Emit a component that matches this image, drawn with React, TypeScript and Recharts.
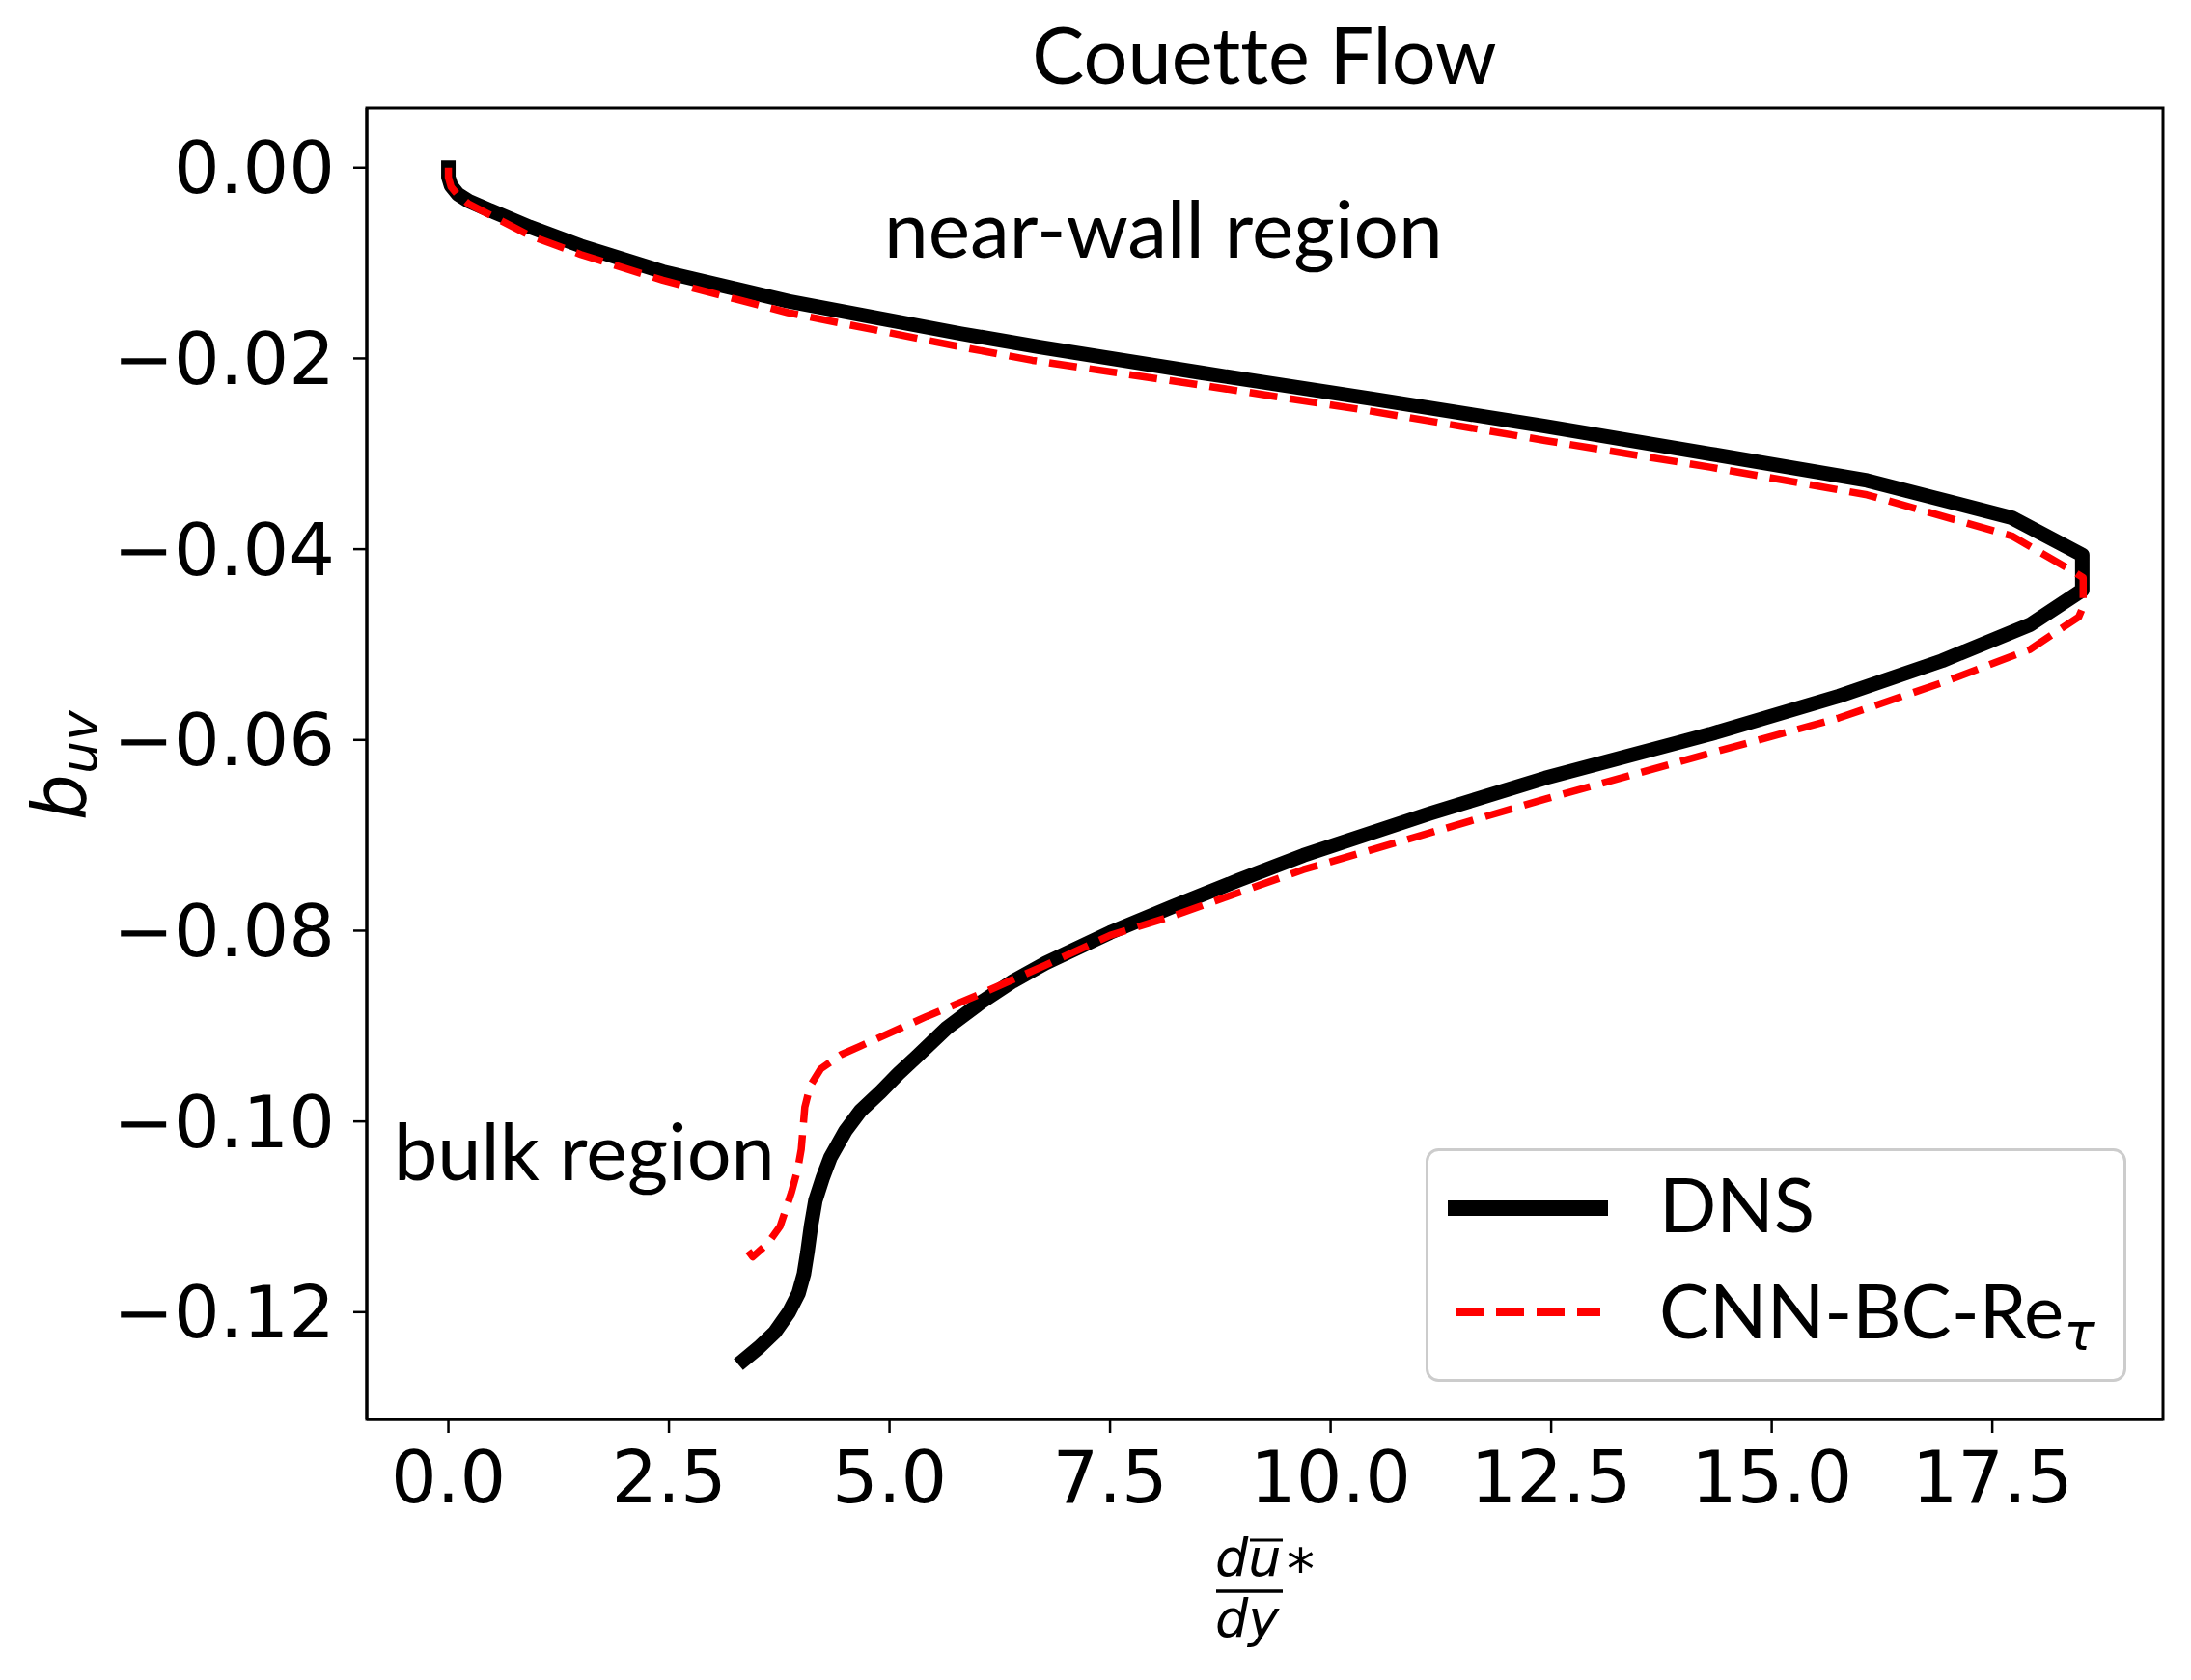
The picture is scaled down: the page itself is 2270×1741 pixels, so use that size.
import React from "react";
import {
  LineChart,
  Line,
  XAxis,
  YAxis,
  Legend,
  ReferenceArea,
  Customized
} from "recharts";

// DNS profile: dU/dy* (x) against b_uv (y), ordered along the curve
const dnsX = [
  0.0, 0.0, 0.03, 0.11, 0.23, 0.48, 0.92, 1.5, 2.43, 3.85, 5.81, 6.7, 8.53, 10.44,
  12.43, 14.3, 16.08, 17.72, 18.52, 18.52, 17.93, 16.93, 15.76, 14.3, 12.43, 11.13,
  9.69, 8.96, 8.23, 7.5, 6.77, 6.4, 6.04, 5.65, 5.31, 5.1, 4.9, 4.67, 4.5, 4.33, 4.24,
  4.16, 4.11, 4.07, 4.03, 3.97, 3.86, 3.7, 3.52, 3.35
];
const dnsY = [
  0.0, -0.001, -0.0019, -0.0028, -0.0035, -0.0045, -0.0062, -0.0082, -0.0109, -0.014,
  -0.0174, -0.0188, -0.0215, -0.0242, -0.0271, -0.03, -0.0328, -0.0367, -0.0406,
  -0.0443, -0.0479, -0.0517, -0.0554, -0.0594, -0.064, -0.0677, -0.0721, -0.0747,
  -0.0774, -0.0802, -0.0834, -0.0853, -0.0875, -0.0902, -0.0932, -0.095, -0.0969,
  -0.0989, -0.101, -0.1038, -0.106, -0.1083, -0.111, -0.1137, -0.116, -0.118, -0.12,
  -0.1221, -0.1237, -0.125
];

// CNN-BC-Re_tau prediction
const cnnX = [
  0.0, 0.0, 0.03, 0.11, 0.23, 0.48, 0.92, 1.5, 2.43, 3.85, 5.81, 6.62, 8.53, 10.44,
  12.43, 14.3, 16.08, 17.72, 18.43, 18.53, 18.53, 18.48, 17.93, 16.93, 15.76, 14.3,
  12.43, 11.03, 9.69, 8.96, 8.23, 7.5, 6.77, 6.04, 5.42, 4.67, 4.45, 4.22, 4.1, 4.04,
  4.0, 3.96, 3.89, 3.76, 3.62, 3.45, 3.4
];
const cnnY = [
  0.0, -0.001, -0.002, -0.0029, -0.0038, -0.005, -0.0071, -0.0091, -0.0118, -0.0152,
  -0.0188, -0.0202, -0.0228, -0.0255, -0.0286, -0.0314, -0.0343, -0.0386, -0.0424,
  -0.043, -0.046, -0.0471, -0.0505, -0.054, -0.0577, -0.0614, -0.0662, -0.07, -0.0736,
  -0.076, -0.0784, -0.0805, -0.0836, -0.0866, -0.089, -0.0921, -0.093, -0.0945,
  -0.0963, -0.0985, -0.1029, -0.105, -0.1074, -0.111, -0.1128, -0.1142, -0.1136
];

const xTicks = [0, 2.5, 5, 7.5, 10, 12.5, 15, 17.5];
const yTicks = [0, -0.02, -0.04, -0.06, -0.08, -0.1, -0.12];

const X_DOMAIN: [number, number] = [-0.925, 19.435];
const Y_DOMAIN: [number, number] = [-0.13125, 0.00625];

const dnsData = dnsX.map((x, i) => ({ x, y: dnsY[i] }));
const cnnData = cnnX.map((x, i) => ({ x, y: cnnY[i] }));

const TICK_FONT = "DejaVu Sans";
const TEXT_FONT = "Lato";
const noLig = { fontVariantLigatures: "none" as const };

const fmtX = (v: number) => v.toFixed(1);
const fmtY = (v: number) => (v < 0 ? "\u2212" + Math.abs(v).toFixed(2) : v.toFixed(2));

const renderLegend = () => (
  <svg width={726} height={242}>
    <rect x={1.5} y={1.5} width={723} height={239} rx={12} fill="rgba(255,255,255,0.8)" stroke="#cccccc" strokeWidth={3} />
    <line x1={23} x2={189} y1={62} y2={62} stroke="#000" strokeWidth={16} />
    <text x={242} y={87} fontFamily={TEXT_FONT} fontSize={78} fill="#000" style={noLig}>DNS</text>
    <line x1={31} x2={181} y1={170} y2={170} stroke="#ff0000" strokeWidth={8} strokeDasharray="29 13" />
    <text x={242} y={197} fontFamily={TEXT_FONT} fontSize={78} fill="#000" style={noLig}>
      CNN-BC-Re
      <tspan fontFamily={TICK_FONT} fontStyle="italic" fontSize={54} dy={12}>τ</tspan>
    </text>
  </svg>
);

const Annotations = () => (
  <g>
    <text x={1310} y={87} textAnchor="middle" fontFamily={TEXT_FONT} fontSize={81} fill="#000" style={noLig}>
      Couette Flow
    </text>
    <text x={916} y={267} fontFamily={TEXT_FONT} fontSize={82} fill="#000" style={noLig}>near-wall region</text>
    <text x={408} y={1223} fontFamily={TEXT_FONT} fontSize={81} fill="#000" style={noLig}>bulk region</text>
    {/* y label b_uv */}
    <text
      x={88}
      y={793}
      textAnchor="middle"
      transform="rotate(-90 88 793)"
      fontFamily={TICK_FONT}
      fontStyle="italic"
      fontSize={76}
      fill="#000"
    >
      b<tspan fontSize={54} dy={12}>uv</tspan>
    </text>
    {/* x label: d(u bar)/dy * */}
    <text x={1259} y={1633} fontFamily={TICK_FONT} fontStyle="italic" fontSize={54} fill="#000">du</text>
    <line x1={1295} x2={1329} y1={1596} y2={1596} stroke="#000" strokeWidth={3} />
    <line x1={1260} x2={1329} y1={1649} y2={1649} stroke="#000" strokeWidth={3.5} />
    <text x={1259} y={1696} fontFamily={TICK_FONT} fontStyle="italic" fontSize={54} fill="#000">dy</text>
    <text x={1333} y={1647} fontFamily={TICK_FONT} fontSize={58} fill="#000">*</text>
  </g>
);

export default function App() {
  return (
    <div style={{ position: "absolute", left: 0, top: 0, width: 2270, height: 1741, background: "#fff" }}>
      <LineChart
        width={2270}
        height={1741}
        margin={{ top: 112, right: 29, left: 80, bottom: 70 }}
      >
        <XAxis
          type="number"
          dataKey="x"
          domain={X_DOMAIN}
          ticks={xTicks}
          tickFormatter={fmtX}
          allowDataOverflow
          height={200}
          tickSize={14}
          tickMargin={19}
          axisLine={{ stroke: "#000", strokeWidth: 3 }}
          tickLine={{ stroke: "#000", strokeWidth: 2.5 }}
          tick={{ fontFamily: TICK_FONT, fontSize: 75, fill: "#000" }}
        />
        <YAxis
          type="number"
          dataKey="y"
          domain={Y_DOMAIN}
          ticks={yTicks}
          tickFormatter={fmtY}
          allowDataOverflow
          width={300}
          tickSize={14}
          tickMargin={19}
          axisLine={{ stroke: "#000", strokeWidth: 3 }}
          tickLine={{ stroke: "#000", strokeWidth: 2.5 }}
          tick={{ fontFamily: TICK_FONT, fontSize: 75, fill: "#000" }}
        />
        <ReferenceArea
          x1={X_DOMAIN[0]}
          x2={X_DOMAIN[1]}
          y1={Y_DOMAIN[0]}
          y2={Y_DOMAIN[1]}
          fill="none"
          stroke="#000"
          strokeWidth={3}
          ifOverflow="visible"
        />
        <Line
          data={dnsData}
          dataKey="y"
          name="DNS"
          type="linear"
          stroke="#000"
          strokeWidth={15}
          strokeLinecap="square"
          strokeLinejoin="round"
          dot={false}
          activeDot={false}
          isAnimationActive={false}
        />
        <Line
          data={cnnData}
          dataKey="y"
          name="CNN-BC-Re"
          type="linear"
          stroke="#ff0000"
          strokeWidth={7.5}
          strokeDasharray="29 13"
          strokeLinejoin="round"
          dot={false}
          activeDot={false}
          isAnimationActive={false}
        />
        <Legend
          layout="vertical"
          align="center"
          verticalAlign="middle"
          content={renderLegend}
          wrapperStyle={{ position: "absolute", left: 1477, top: 1190, width: 726, height: 242 }}
        />
        <Customized component={Annotations} />
      </LineChart>
    </div>
  );
}
